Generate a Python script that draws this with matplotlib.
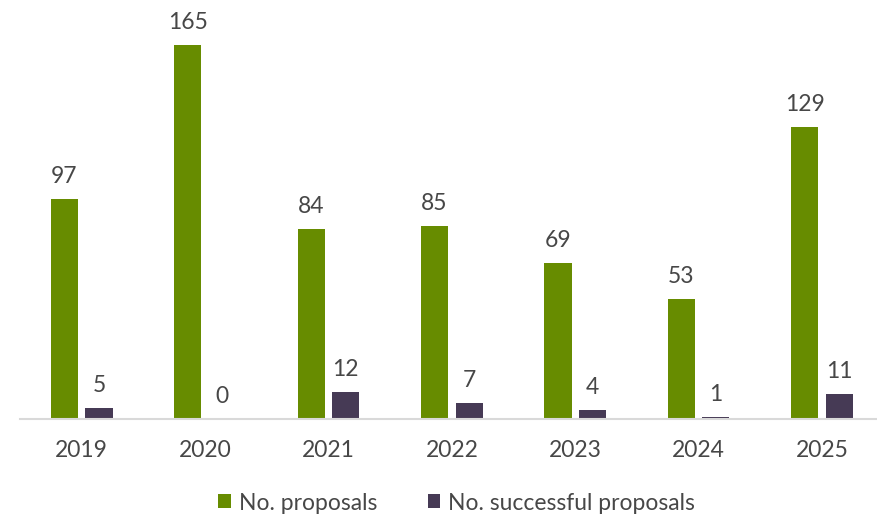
import matplotlib
matplotlib.use("Agg")
import matplotlib.pyplot as plt
import numpy as np

years = ["2019", "2020", "2021", "2022", "2023", "2024", "2025"]
proposals = [97, 165, 84, 85, 69, 53, 129]
successful = [5, 0, 12, 7, 4, 1, 11]

plt.rcParams['font.family'] = ['Lato', 'DejaVu Sans']
GREEN = "#678C00"
PURPLE = "#463A55"
TXT = "#474747"
FS = 16.5

W, H = 878, 517
fig = plt.figure(figsize=(W/100, H/100), dpi=100)
left = 20 / W
width = 863.7 / W
bottom = (H - 419) / H
ax = fig.add_axes([left, bottom, width, 419 / H])

x = np.arange(len(years))
bw = 0.22
off = 0.14
b1 = ax.bar(x - off, proposals, bw, color=GREEN, label="No. proposals")
b2 = ax.bar(x + off, successful, bw, color=PURPLE, label="No. successful proposals")

for bars, vals in ((b1, proposals), (b2, successful)):
    for r, v in zip(bars, vals):
        ax.annotate(str(v), (r.get_x() + r.get_width()/2, r.get_height()),
                    xytext=(0, 11.5), textcoords="offset points",
                    ha="center", va="baseline", fontsize=FS, color=TXT)

ax.set_xlim(-0.5, 6.5)
ax.set_ylim(0, 184.8)
ax.set_xticks(x)
ax.set_xticklabels(years, fontsize=FS, color=TXT)
ax.tick_params(axis="x", length=0, pad=15)
ax.set_yticks([])
for s in ["top", "right", "left"]:
    ax.spines[s].set_visible(False)
ax.spines["bottom"].set_color("#D9D9D9")
ax.spines["bottom"].set_linewidth(1.5)

leg = fig.legend(loc="center", bbox_to_anchor=(0.52, 14/H), ncol=2, frameon=False,
                 fontsize=FS, handlelength=0.55, handleheight=0.55, handletextpad=0.35,
                 columnspacing=2.2, labelcolor=TXT)

fig.savefig("out.png", dpi=100)
